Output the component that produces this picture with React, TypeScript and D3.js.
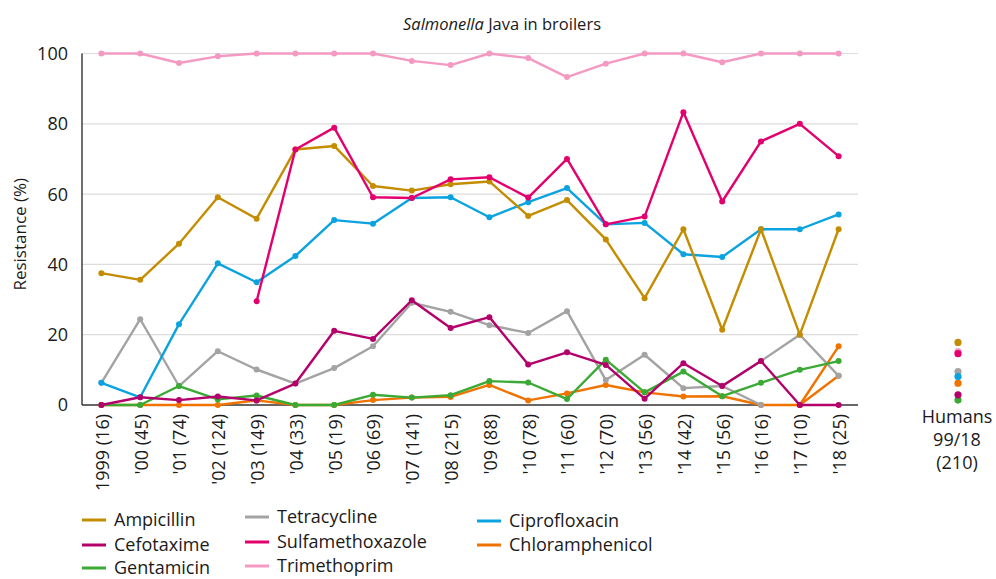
import React from "react";
import * as d3 from "d3";

const years = ["1999 (16)", "'00 (45)", "'01 (74)", "'02 (124)", "'03 (149)", "'04 (33)", "'05 (19)", "'06 (69)", "'07 (141)", "'08 (215)", "'09 (88)", "'10 (78)", "'11 (60)", "'12 (70)", "'13 (56)", "'14 (42)", "'15 (56)", "'16 (16)", "'17 (10)", "'18 (25)"];
const yTicks = [0, 20, 40, 60, 80, 100];

type V = number | null;
const ampicillin: V[] = [37.5, 35.6, 45.9, 59.1, 53.0, 72.7, 73.7, 62.3, 61.0, 62.8, 63.6, 53.8, 58.3, 47.1, 30.4, 50.0, 21.4, 50.0, 20.0, 50.0];
const cefotaxime: V[] = [0, 2.2, 1.4, 2.4, 1.3, 6.1, 21.1, 18.8, 29.8, 21.9, 25.0, 11.5, 15.0, 11.4, 1.8, 11.9, 5.4, 12.5, 0, 0];
const gentamicin: V[] = [0, 0, 5.4, 1.6, 2.7, 0, 0, 2.9, 2.1, 2.8, 6.8, 6.4, 1.7, 12.9, 3.6, 9.5, 2.5, 6.3, 10.0, 12.5];
const tetracycline: V[] = [6.3, 24.4, 5.4, 15.3, 10.1, 6.1, 10.5, 16.7, 29.1, 26.5, 22.7, 20.5, 26.7, 7.1, 14.3, 4.8, 5.4, 12.5, 20.0, 8.3];
const tetracyclineExtra: V[] = [null, null, null, null, null, null, null, null, null, null, null, null, null, null, null, null, 5.4, 0, null, null];
const sulfamethoxazole: V[] = [null, null, null, null, 29.5, 72.7, 78.9, 59.1, 58.9, 64.2, 64.8, 59.0, 70.0, 51.4, 53.6, 83.3, 57.9, 75.0, 80.0, 70.8];
const trimethoprim: V[] = [100, 100, 97.3, 99.2, 100, 100, 100, 100, 97.9, 96.7, 100, 98.7, 93.3, 97.1, 100, 100, 97.5, 100, 100, 100];
const ciprofloxacin: V[] = [6.3, 2.2, 23.0, 40.3, 34.9, 42.4, 52.6, 51.6, 58.9, 59.1, 53.4, 57.7, 61.7, 51.4, 51.8, 42.9, 42.1, 50.0, 50.0, 54.2];
const chloramphenicol: V[] = [0, 0, 0, 0, 1.3, 0, 0, 1.4, 2.1, 2.3, 5.7, 1.3, 3.3, 5.7, 3.6, 2.4, 2.5, 0, 0, 16.7];
const chloramphenicolExtra: V[] = [null, null, null, null, null, null, null, null, null, null, null, null, null, null, null, null, null, null, 0, 8.3];

const humansLabel = ["Humans", "99/18", "(210)"];

const C = {
  amp: "#c48c00",
  cef: "#b4006b",
  gen: "#3aaa35",
  tet: "#a3a3a3",
  sul: "#e3006e",
  tri: "#f49ac2",
  cip: "#0aa3e0",
  chl: "#f07300",
};

// drawing order (bottom -> top)
const series = [
  { name: "Trimethoprim", color: C.tri, values: trimethoprim, human: 15.2 },
  { name: "Chloramphenicol", color: C.chl, values: chloramphenicol, human: 6.2 },
  { name: "Chloramphenicol2", color: C.chl, values: chloramphenicolExtra, human: null },
  { name: "Tetracycline", color: C.tet, values: tetracycline, human: 9.5 },
  { name: "Tetracycline2", color: C.tet, values: tetracyclineExtra, human: null },
  { name: "Gentamicin", color: C.gen, values: gentamicin, human: 1.4 },
  { name: "Ciprofloxacin", color: C.cip, values: ciprofloxacin, human: 8.1 },
  { name: "Ampicillin", color: C.amp, values: ampicillin, human: 17.8 },
  { name: "Sulfamethoxazole", color: C.sul, values: sulfamethoxazole, human: 14.6 },
  { name: "Cefotaxime", color: C.cef, values: cefotaxime, human: 2.9 },
];

const legendCols = [
  { x: 82, items: [["Ampicillin", C.amp], ["Cefotaxime", C.cef], ["Gentamicin", C.gen]], ys: [520, 545, 568] },
  { x: 245, items: [["Tetracycline", C.tet], ["Sulfamethoxazole", C.sul], ["Trimethoprim", C.tri]], ys: [517, 542, 566] },
  { x: 477, items: [["Ciprofloxacin", C.cip], ["Chloramphenicol", C.chl]], ys: [521, 545] },
];

const FONT = "'Open Sans', 'Noto Sans', sans-serif";

export default function App() {
  const W = 996, H = 579;
  const x0 = 82, x1 = 858, yTop = 53.5, yBot = 405;
  const x = d3.scalePoint<string>().domain(years).range([x0, x1]).padding(0.5);
  const y = d3.scaleLinear().domain([0, 100]).range([yBot, yTop]);
  const line = d3
    .line<V>()
    .defined((d) => d !== null)
    .x((_, i) => x(years[i]) as number)
    .y((d) => y(d as number));
  const humansX = 958;

  return (
    <svg width={W} height={H} style={{ position: "fixed", left: 0, top: 0, fontFamily: FONT }}>
      <rect width={W} height={H} fill="#fff" />
      <text x={502} y={30} textAnchor="middle" fontSize={16.5} fill="#1a1a1a">
        <tspan fontStyle="italic">Salmonella</tspan> Java in broilers
      </text>
      {yTicks.filter((t) => t > 0).map((t) => (
        <line key={t} x1={x0} x2={x1} y1={y(t)} y2={y(t)} stroke="#dcdcdc" strokeWidth={1.2} />
      ))}
      <line x1={x0} x2={x0} y1={yTop} y2={yBot} stroke="#222" strokeWidth={1.3} />
      <line x1={x0} x2={x1} y1={yBot} y2={yBot} stroke="#333" strokeWidth={1.5} />
      {yTicks.map((t) => (
        <text key={t} x={68} y={y(t)} dy="0.36em" textAnchor="end" fontSize={18} fill="#1a1a1a">
          {t}
        </text>
      ))}
      <text transform={`translate(26,${(yTop + yBot) / 2 + 5}) rotate(-90)`} textAnchor="middle" fontSize={17} fill="#1a1a1a">
        Resistance (%)
      </text>
      {years.map((yr) => (
        <text
          key={yr}
          transform={`translate(${(x(yr) as number) + 1},414) rotate(-90)`}
          textAnchor="end"
          dy="0.36em"
          fontSize={18}
          fill="#1a1a1a"
        >
          {yr}
        </text>
      ))}
      {series.map((s) => (
        <g key={s.name}>
          <path d={line(s.values) || ""} fill="none" stroke={s.color} strokeWidth={2.4} strokeLinejoin="round" />
          {s.values.map((v, i) =>
            v === null ? null : <circle key={i} cx={x(years[i]) as number} cy={y(v)} r={3} fill={s.color} />
          )}
        </g>
      ))}
      {series.map((s) =>
        s.human === null ? null : <circle key={"h" + s.name} cx={humansX} cy={y(s.human)} r={3.6} fill={s.color} />
      )}
      {humansLabel.map((t, i) => (
        <text key={t} x={957} y={423 + i * 23} textAnchor="middle" fontSize={18} fill="#1a1a1a">
          {t}
        </text>
      ))}
      {legendCols.map((col) =>
        col.items.map(([name, color], i) => (
          <g key={name}>
            <line x1={col.x} x2={col.x + 24} y1={col.ys[i]} y2={col.ys[i]} stroke={color} strokeWidth={3} />
            <text x={col.x + 32} y={col.ys[i] + 6} fontSize={18} fill="#1a1a1a">
              {name}
            </text>
          </g>
        ))
      )}
    </svg>
  );
}
